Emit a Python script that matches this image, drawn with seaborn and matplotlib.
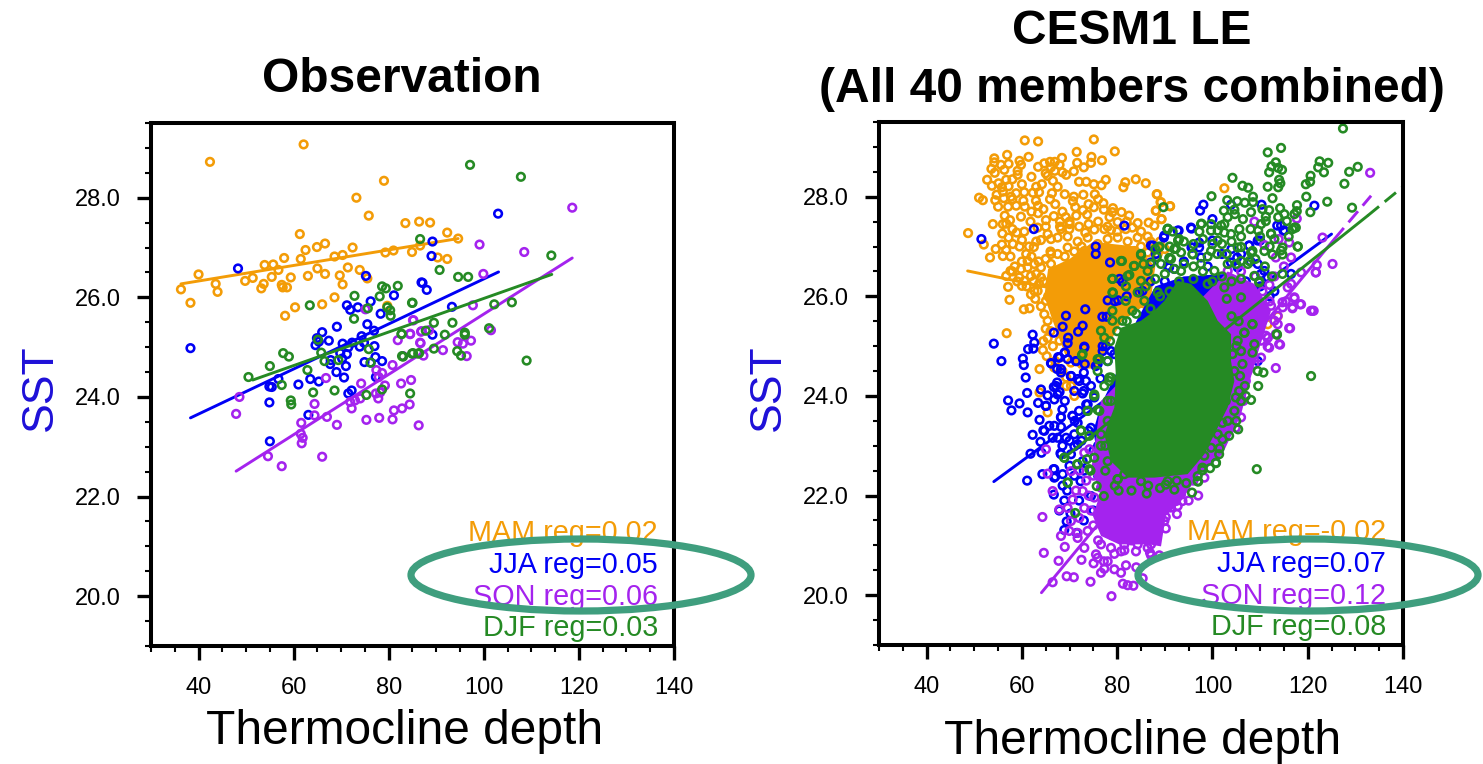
import matplotlib
matplotlib.use("Agg")
import matplotlib.pyplot as plt
from matplotlib.patches import Ellipse
from matplotlib.ticker import MultipleLocator, FormatStrFormatter
import pandas as pd
import seaborn as sns

sns.set_theme(style='white')
plt.rcParams['font.family'] = ['Liberation Sans', 'DejaVu Sans']

# values, (thermocline depth, SST)
obs_mam = [(42.4,28.72),(62.1,29.07),(79.0,28.34),(73.2,28.0),(75.8,27.64),(83.5,27.49),(86.4,27.52),(88.7,27.5),(61.3,27.27),
    (66.6,27.08),(64.9,27.01),(62.5,26.95),(72.4,27.0),(58.0,26.79),(61.5,26.77),(68.6,26.82),(70.3,26.85),(79.3,26.9),(81.0,26.94),
    (84.9,26.91),(86.6,27.04),(53.9,26.65),(55.7,26.66),(56.8,26.55),(40.0,26.46),(51.4,26.39),(49.8,26.33),(55.4,26.41),(59.4,26.4),
    (63.0,26.43),(65.0,26.58),(66.6,26.47),(71.4,26.6),(69.7,26.44),(73.9,26.55),(70.3,26.26),(75.5,26.38),(43.6,26.27),(44.0,26.11),
    (36.3,26.16),(38.3,25.89),(53.7,26.27),(53.2,26.18),(57.5,26.25),(57.7,26.2),(58.6,26.2),(68.6,26.0),(66.0,25.86),(60.3,25.8),
    (58.2,25.63),(92.3,27.3),(94.6,27.18),(90.3,26.8),(92.3,26.77),(79.7,25.83)]
obs_jja = [(48.3,26.58),(75.2,26.43),(81.1,26.04),(76.2,25.92),(71.2,25.84),(71.9,25.75),(73.5,25.8),(86.9,26.3),(78.3,25.67),(69.1,25.41),
    (75.5,25.46),(76.9,25.33),(66.0,25.3),(64.9,25.18),(65.3,25.11),(67.4,25.13),(64.6,25.04),(74.3,25.22),(72.3,25.09),(70.3,25.07),
    (73.9,25.01),(77.0,25.02),(74.8,25.09),(71.5,25.0),(69.8,24.88),(71.2,24.86),(70.2,24.77),(77.2,24.8),(67.8,24.74),(67.7,24.66),
    (71.0,24.62),(74.9,24.7),(76.2,24.69),(78.6,24.72),(69.0,24.5),(70.6,24.39),(65.3,24.31),(63.5,24.36),(61.0,24.25),(56.8,24.36),
    (55.4,24.2),(54.9,24.21),(77.3,24.4),(72.2,24.13),(71.5,24.07),(54.9,23.89),(63.1,23.64),(55.0,23.11),(38.3,24.98),(103.0,27.68),
    (89.2,27.12),(89.0,26.83),(87.1,26.29),(88.0,26.15),(93.3,25.81),(89.2,25.25)]
obs_son = [(118.6,27.8),(99.1,27.06),(108.5,26.91),(99.9,26.47),(97.7,25.84),(85.2,25.54),(84.5,25.27),(86.9,25.32),(88.5,25.34),(101.5,25.34),
    (97.3,25.13),(94.5,25.1),(95.6,25.07),(86.7,25.08),(91.4,24.94),(96.4,24.82),(87.3,24.83),(75.1,25.76),(85.1,25.54),(84.5,25.26),
    (86.8,25.31),(81.9,25.14),(86.6,25.09),(83.0,24.82),(80.8,24.64),(77.4,24.54),(78.6,24.48),(77.9,24.4),(66.8,24.38),(74.2,24.27),
    (84.7,24.34),(82.6,24.27),(79.2,24.23),(78.2,24.09),(77.3,24.07),(77.8,23.97),(74.0,23.97),(72.9,23.93),(71.9,23.9),(72.2,23.77),
    (64.4,23.86),(48.6,24.0),(47.9,23.66),(64.4,23.63),(67.0,23.6),(61.6,23.48),(69.1,23.44),(75.3,23.54),(78.0,23.58),(80.8,23.55),
    (81.1,23.73),(82.8,23.77),(84.4,23.85),(86.3,23.43),(61.5,23.26),(61.9,23.18),(61.7,23.07),(54.6,22.81),(66.0,22.8),(57.5,22.61)]
obs_djf = [(78.6,26.22),(79.4,26.18),(81.9,26.23),(78.1,26.02),(72.8,26.03),(63.4,25.84),(84.9,25.89),(79.7,25.8),(80.3,25.74),(80.4,25.63),
    (72.7,25.57),(75.6,25.78),(65.1,25.15),(82.7,25.26),(75.8,24.96),(65.8,24.89),(57.8,24.88),(59.0,24.81),(55.0,24.62),(66.5,24.72),
    (69.4,24.74),(62.9,24.54),(76.2,24.69),(82.8,24.82),(84.9,24.87),(86.2,24.87),(50.5,24.4),(57.5,24.24),(64.1,24.09),(68.6,24.13),
    (78.6,24.15),(75.3,24.04),(84.5,24.07),(59.4,23.93),(59.5,23.85),(97.1,28.66),(107.8,28.42),(86.6,27.17),(114.2,26.84),(90.7,26.55),
    (94.6,26.41),(96.7,26.41),(85.0,25.89),(102.2,25.86),(105.9,25.9),(89.5,25.49),(93.4,25.49),(91.8,25.25),(87.8,25.33),(82.7,25.27),
    (96.0,25.29),(96.0,25.25),(101.1,25.38),(109.0,24.73),(89.5,24.97),(94.4,24.92),(95.2,24.83),(85.1,24.88),(86.4,24.88),(83.0,24.81)]

le_mam = [(60.6,29.13),(63.4,29.11),(75.1,29.15),(79.5,28.91),(71.5,28.9),(56.9,28.84),(61.4,28.8),(68.4,28.78),(74.6,28.8),(76.8,28.73),
    (54.2,28.77),(54.2,28.69),(59.5,28.72),(57.2,28.66),(55.6,28.64),(53.6,28.56),(56.3,28.54),(54.3,28.48),(59.8,28.64),(59.1,28.52),
    (59.1,28.44),(63.4,28.6),(64.7,28.67),(65.9,28.7),(66.9,28.7),(66.1,28.59),(67.9,28.64),(66.9,28.52),(65.0,28.47),(65.4,28.42),
    (66.5,28.32),(68.5,28.49),(69.3,28.44),(70.9,28.51),(71.6,28.68),(73.0,28.59),(74.5,28.68),(52.7,28.34),(53.7,28.22),(55.1,28.27),
    (56.7,28.34),(55.8,28.19),(57.2,28.21),(64.2,28.25),(75.1,28.25),(76.7,28.23),(77.6,28.34),(81.7,28.29),(81.3,28.19),(83.9,28.35),
    (86.0,28.27),(88.4,28.05),(54.7,28.04),(60.5,28.09),(62.3,28.08),(63.6,28.09),(66.3,28.07),(58.8,28.07),(57.7,28.0),(56.2,27.97),
    (54.4,27.93),(51.0,27.98),(51.8,27.93),(65.9,27.95),(60.3,27.92),(62.95,27.92),(70.9,28.0),(70.7,27.91),(72.9,28.04),(75.3,28.05),
    (77.1,27.87),(89.2,27.89),(57.1,27.8),(58.8,27.82),(60.6,27.8),(63.4,27.82),(63.4,27.67),(71.2,27.79),(75.1,27.79),(77.2,27.74),
    (79.1,27.77),(79.0,27.69),(80.9,27.69),(82.5,27.62),(72.8,27.73),(73.7,27.64),(88.1,27.72),(91.1,27.81),(89.3,27.55),(56.4,27.62),
    (57.5,27.53),(56.7,27.46),(53.9,27.45),(59.8,27.6),(61.8,27.5),(48.7,27.27),(65.05,27.53),(66.7,27.61),(69.2,27.59),(71.4,27.62),
    (80.1,27.49),(78.4,27.59),(84.3,27.47),(86.6,27.48),(87.8,27.42),(55.9,27.26),(57.2,27.18),(58.9,27.28),(60.0,27.13),(52.0,27.04),
    (55.8,27.04),(58.1,27.05),(56.7,26.93),(53.3,26.78),(56.0,26.81),(57.6,26.8),(60.9,26.85),(61.2,26.71),(62.5,26.99),(64.0,27.13),
    (66.1,27.15),(68.2,27.35),(69.95,27.35),(73.3,27.28),(75.2,27.34),(77.3,27.35),(78.7,27.33),(81.8,27.35),(83.2,27.38),(57.6,26.51),
    (56.7,26.41),(59.8,26.55),(61.9,26.41),(64.0,26.58),(60.0,26.21),(57.1,26.19),(57.4,25.93),(60.4,25.74),(61.6,25.76),(63.6,26.25),
    (62.6,26.11),(56.8,25.26),(65.4,25.16),(67.9,25.11),(64.4,24.92),(65.2,24.8),(63.7,24.54),(66.8,24.57),(69.3,24.37),(70.3,24.2),
    (69.3,24.2),(63.7,24.07),(65.4,23.67),(71.0,24.0),(67.9,24.77),(70.3,24.67),(102.5,28.17),(88.3,28.05),(89.1,27.89),(91.1,27.81),
    (88.15,27.72),(89.3,27.55),(113.7,25.6),(111.6,25.44),
    (63.3,27.38),(65.4,27.25),(67.5,27.18),(69.6,27.2),(71.7,27.1),(73.8,27.18),(75.9,27.05),(78.0,27.15),(80.1,27.18),(82.2,27.1),
    (84.3,27.18),(86.4,27.2),(69.6,26.98),(73.1,26.91),(76.6,26.88),(80.1,26.91),(83.6,26.91),(86.4,26.88),(66.1,26.85),(62.6,26.65),
    (64.0,26.38),(66.1,26.65),(61.2,26.58),(59.45,26.38),(60.5,26.31),(63.3,26.11),(65.05,25.91),(64.7,25.64),(65.4,25.51),(61.9,26.04),
    (58.5,26.6),(60.0,26.7),(62.0,26.8),(63.5,26.7),(65.0,26.75),(66.0,26.9),(67.5,26.85),(69.0,26.8),(71.0,26.9),(72.5,27.0),
    (62.5,26.3),(61.0,26.2),(59.0,26.3),(58.0,26.5),(63.0,26.45),(64.5,26.3),(65.5,26.0),(64.0,25.8),(62.8,25.95),(66.0,25.3),
    (66.5,25.0),(67.0,24.7),(68.5,24.5),(65.0,25.35),(64.5,25.1),(68.0,27.4),(70.0,27.45),(72.0,27.4),(74.0,27.45),(76.0,27.5),
    (78.0,27.4),(80.0,27.3),(82.0,27.5),(85.0,27.3),(87.0,27.1),(89.0,27.1),(90.0,26.95),(88.5,26.85),(85.0,27.0),(65.0,27.4),
    (63.0,27.1),(61.5,27.0),(59.5,27.0),(60.5,27.3),(62.0,27.7),(64.5,27.75),(67.0,27.85),(68.5,27.7),(70.0,27.5),(74.0,27.85),
    (76.0,27.95),(58.0,27.35),(54.5,26.95),(56.0,27.45),(58.0,27.95),(60.0,28.25),(62.0,28.4),(63.0,28.2),(55.0,27.8),(56.0,28.1),
    (58.0,28.35),(67.5,28.2),(69.0,28.05),(72.0,28.3),(73.5,28.3),(68.0,27.5)]
le_jja = [(54.1,25.05),(55.7,24.7),(60.2,24.75),(60.4,24.62),(61.3,24.94),(62.6,25.07),(62.25,25.23),(62.4,24.95),(60.8,24.37),(61.1,24.06),
    (57.1,23.91),(59.5,23.85),(57.8,23.71),(61.2,23.67),(63.4,23.86),(63.7,23.52),(64.0,24.13),(65.4,24.01),(65.05,23.8),(66.8,23.93),
    (68.5,23.73),(68.2,23.58),(70.6,23.6),(71.1,23.5),(66.1,24.66),(67.6,24.78),(69.6,24.74),(71.4,24.7),(73.2,24.64),(67.4,24.54),
    (68.2,24.47),(70.3,24.4),(71.7,24.34),(73.0,24.47),(73.1,24.99),(69.6,25.06),(69.0,24.87),(67.4,24.27),(66.7,24.18),(67.9,24.08),
    (72.75,24.05),(73.5,23.83),(75.2,23.97),(65.75,23.4),(66.8,23.4),(68.2,23.38),(62.25,23.22),(64.5,23.31),(63.9,23.08),(61.8,22.84),
    (64.1,22.86),(68.1,22.85),(67.5,23.16),(69.3,23.16),(71.0,23.23),(71.7,23.03),(70.3,22.83),(66.65,22.53),(64.3,22.43),(67.0,22.38),
    (68.55,22.43),(61.1,22.3),(72.3,22.29),(68.55,22.2),(66.7,22.02),(68.9,21.9),(67.85,21.7),(70.2,21.64),(69.4,21.48),(68.9,21.31),
    (74.5,21.99),(78.35,22.33),(73.8,23.83),(74.5,23.36),(71.0,22.99),(72.75,22.69),(75.9,23.26),(77.3,23.5),(75.9,24.64),(78.0,24.7),
    (78.7,24.9),(76.95,25.0),(98.1,27.84),(97.4,27.72),(103.9,27.84),(110.3,27.84),(121.4,27.82),(100.0,27.55),(95.6,27.36),(92.9,27.32),
    (89.8,27.18),(113.6,27.42),(114.9,27.32),(110.0,27.12),(107.7,27.02),(95.6,26.98),(97.2,27.08),(87.5,27.02),(97.6,26.78),(90.6,26.61),
    (105.2,26.78),(105.3,26.58),(109.5,26.65),(110.9,26.51),(111.6,26.38),(110.2,26.45),(108.8,26.01),(116.5,26.45),(93.75,26.18),(103.9,26.68),
    (100.0,27.12),(51.5,27.15),(62.5,27.35),(75.5,26.85),(80.5,26.35),(79.5,25.9),(82.0,26.0),
    (75.5,27.0),(78.5,26.68),(81.1,26.29),(78.0,25.92),(80.2,25.92),(76.9,25.59),(77.8,25.59),(73.3,25.74),(69.25,25.61),(68.55,25.39),
    (72.75,25.41),(71.8,25.29),(66.7,25.27),(69.7,25.17),(73.1,24.97),(69.0,24.87),(66.2,24.65),(67.85,24.77),(71.35,24.7),(68.2,24.54),
    (70.3,24.4),(72.05,24.3),(73.45,24.3),(67.15,24.2),(65.05,23.8),(67.5,24.03),(70.65,23.6),(68.2,23.57),(66.45,23.16),(64.7,23.3),
    (68.2,22.83),(66.8,22.53),(66.8,22.36),(71.7,23.46),(81.5,27.42),(87.1,27.02),(89.9,27.22),(92.7,27.32),(95.5,27.38),(95.8,26.98),
    (97.2,26.98),(109.5,27.12),(107.7,27.02),(114.4,27.42),(115.1,27.32),(94.1,26.28),(85.3,26.11),(84.6,26.08),(87.1,26.68),(88.1,26.85),
    (90.9,26.58),(109.5,24.7),(77.65,25.0),(76.95,24.9),(79.4,24.84),
    (69.0,23.9),(71.0,24.1),(72.0,23.7),(73.0,24.1),(74.5,24.2),(75.5,24.6),(76.5,24.35),(74.0,23.3),(72.5,23.1),(73.0,22.5),
    (75.0,22.9),(76.0,23.0),(70.0,23.1),(68.5,23.0),(70.0,22.6),(71.0,22.4),(69.5,22.1),(72.0,21.9),(76.0,22.4),(77.0,22.2),
    (75.0,21.7),(73.0,21.5),(71.5,21.25),(99.0,26.6),(102.0,26.85),(104.0,26.95),(106.0,26.85),(108.0,26.7),(110.0,26.2),(112.0,26.0),
    (113.0,26.1),(107.0,26.3),(108.0,26.05),(94.0,26.7),(92.0,26.55),(90.0,26.3),(87.0,26.3)]
le_son = [(64.3,21.57),(64.6,20.85),(67.7,20.69),(66.45,20.26),(69.4,20.38),(70.9,20.36),(74.4,20.27),(78.8,19.98),(81.2,20.23),(82.2,20.2),
    (83.4,20.19),(85.35,20.34),(84.0,20.56),(81.85,20.6),(80.8,20.45),(79.4,20.52),(76.6,20.45),(77.3,20.53),(77.2,20.68),(72.5,20.71),
    (75.05,20.64),(69.0,20.97),(68.2,21.19),(71.7,21.25),(90.2,21.34),(92.55,21.63),(93.7,21.89),(90.2,21.57),(88.85,20.8),(86.9,20.85),
    (83.95,20.88),(81.5,20.9),(79.4,20.83),(75.55,20.82),(87.1,21.02),(88.85,21.45),(92.7,21.79),(69.6,21.75),(67.85,21.72),(70.65,21.92),
    (66.45,22.09),(65.4,22.44),(65.05,22.93),(71.35,22.1),(72.75,22.09),(70.3,22.49),(72.05,22.5),(73.1,22.86),(74.15,22.93),(94.1,22.29),
    (97.9,22.63),(100.75,22.99),(98.3,22.36),(92.35,21.89),(133.1,28.48),(117.7,27.56),(108.8,27.5),(123.1,27.18),(125.2,26.65),(121.9,26.63),
    (121.7,26.48),(113.9,27.15),(116.1,27.08),(110.9,27.03),(116.5,26.78),(113.3,26.78),(111.95,26.23),(118.6,26.48),(115.8,26.18),(117.2,25.98),
    (118.4,25.84),(116.8,25.76),(120.7,25.71),(121.25,25.71),(116.3,25.36),(114.0,25.04),(111.6,24.99),(111.6,25.17),(113.7,25.44),(114.75,25.78),
    (112.3,25.81),(110.9,25.71),(109.85,25.57),(107.4,26.11),(103.2,26.51),(113.3,25.24),(108.1,25.04),(110.2,25.11),(106.0,25.17),
    (76.6,21.02),(78.7,20.95),(81.5,21.02),(84.3,21.02),(86.4,20.95),(73.1,20.95),(71.7,21.15),(73.8,21.29),(87.1,21.22),(88.5,21.29),
    (89.9,21.49),(91.3,21.76),(90.6,21.89),(93.4,22.02),(94.1,22.16),(75.9,20.75),(78.0,20.68),(80.8,20.88),(87.1,20.8),(69.95,21.29),
    (70.3,21.49),(72.05,21.55),(73.1,21.75),(75.2,21.96),(76.6,22.16),
    (113.3,24.56),(114.2,25.03),(111.9,24.97),(116.1,25.36),(121.0,25.71),(118.6,25.84),(116.8,25.78),(117.2,25.96),(115.4,25.9),(111.6,25.17),
    (110.2,24.77),(108.8,24.64),(107.4,24.5),(108.1,24.7),(106.0,24.44),(103.5,24.03),(103.5,23.67),(106.0,23.57),(104.9,23.36),(108.8,25.21),
    (111.2,25.21),(113.7,25.61),(114.7,25.88),(116.5,26.25),(121.7,26.48),(113.0,25.51),
    (107.0,25.8),(109.0,25.3),(110.0,25.4),(106.0,25.4),(107.5,25.0),(105.5,24.8),(107.0,24.3),(106.5,23.9),(103.0,23.3),(101.5,23.0),
    (99.0,22.7),(97.0,22.0),(95.0,21.9),(96.0,22.3),(92.0,22.0),(95.0,22.7),(110.5,26.1),(112.0,25.9),(109.0,26.4),(106.0,26.5),
    (113.0,26.4),(115.0,26.6),(79.0,21.2),(83.0,21.1),(85.0,21.15),(76.0,21.1),(75.0,21.4),(74.5,21.7),(74.0,22.0),(73.5,22.3),
    (75.0,22.4),(88.0,21.5),(89.0,21.8),(91.0,22.2)]
le_djf = [(127.4,29.37),(114.4,28.98),(111.6,28.89),(113.3,28.69),(112.4,28.61),(114.6,28.54),(113.8,28.58),(111.9,28.49),(122.5,28.71),(124.3,28.68),
    (122.2,28.59),(123.4,28.49),(130.5,28.6),(128.7,28.5),(120.6,28.42),(120.5,28.3),(119.6,28.25),(127.7,28.26),(114.0,28.34),(114.25,28.27),
    (113.8,28.19),(111.6,28.2),(104.2,28.38),(106.3,28.22),(107.5,28.18),(99.8,28.01),(119.7,28.0),(112.6,27.97),(124.1,27.9),(108.5,28.0),
    (103.1,27.93),(105.2,27.91),(106.8,27.88),(108.5,27.89),(129.3,27.78),(117.75,27.83),(117.7,27.71),(120.55,27.69),(114.2,27.77),(110.5,27.75),
    (111.9,27.73),(111.2,27.6),(115.1,27.65),(117.2,27.65),(102.4,27.72),(104.6,27.74),(104.7,27.65),(108.1,27.69),(113.8,27.59),(115.6,27.51),
    (111.2,27.51),(106.4,27.55),(103.2,27.59),(97.7,27.46),(99.7,27.45),(101.8,27.42),(90.6,27.36),(91.65,27.3),(97.25,27.3),(99.7,27.32),
    (102.5,27.28),(105.65,27.35),(109.6,27.32),(117.5,27.38),(116.8,27.35),(112.3,27.26),(92.8,27.12),(101.1,27.12),(88.85,26.99),(92.35,26.96),
    (95.85,26.84),(99.7,26.91),(106.0,26.99),(108.4,26.91),(110.9,26.91),(114.7,26.98),(117.9,27.0),(114.7,26.84),(112.6,26.84),(90.95,26.77),
    (107.75,26.71),(114.7,26.45),(109.85,26.3),(113.55,25.23),(108.4,25.44),(106.7,25.27),(105.3,25.11),(89.7,27.79),(90.6,27.35),(92.8,27.12),
    (88.85,27.0),(85.0,26.83),(81.0,26.71),(83.5,26.61),(79.0,26.35),(82.55,26.43),(81.85,26.2),(79.1,26.07),(91.0,26.77),(88.3,26.79),
    (72.6,24.82),(75.9,24.74),(75.2,24.0),(73.8,23.7),(75.9,23.72),(72.4,23.31),(74.15,23.2),(71.6,22.63),(68.9,22.76),(73.65,22.73),
    (75.2,22.76),(74.4,22.5),(69.6,22.26),(75.7,22.19),(77.2,21.99),(80.3,22.1),(86.2,22.04),(92.0,22.12),(95.7,22.06),(97.0,22.28),
    (97.9,22.51),(100.75,22.66),(71.2,21.65),(80.1,22.33),(90.2,22.22),(78.0,23.9),(78.7,24.37),(120.7,24.4),(109.3,22.53),
    (85.0,26.85),(83.6,26.61),(86.4,26.51),(89.2,26.65),(93.4,26.88),(91.3,26.75),(95.8,26.85),(97.6,26.65),(100.4,26.51),(103.2,26.65),
    (106.0,26.71),(108.1,26.88),(107.4,26.65),(108.8,26.41),(109.8,26.28),(101.1,27.32),(103.9,27.25),(105.3,26.98),(110.2,27.45),(114.4,26.92),
    (117.9,27.0),(112.3,27.25),(117.2,27.38),(90.6,27.35),(97.6,27.45),(102.5,27.45),(93.0,27.15),(92.0,26.95),(80.8,26.71),(79.0,26.35),
    (82.2,26.41),(85.0,26.31),(84.3,26.08),(81.8,25.91),(79.0,26.08),(83.2,25.71),(79.0,25.71),(79.0,25.51),(81.1,25.51),(76.6,25.31),
    (77.3,25.17),(72.75,24.84),(76.25,24.74),(75.9,24.5),(78.35,24.37),(75.2,24.03),(77.3,24.2),(78.7,23.9),(73.8,23.7),(76.25,23.7),
    (72.4,23.3),(76.6,23.0),(74.15,22.53),(68.9,22.76),(69.6,22.26),(71.7,22.63),(80.1,22.33),(88.5,26.08),(85.7,25.91),(93.4,26.51),
    (99.0,26.25),(102.5,26.18),(106.0,25.98),(108.4,25.44),(106.7,25.27),(108.8,25.04),(108.4,24.87),(109.5,24.5),(110.7,24.47),(106.8,24.2),
    (109.6,24.2),(106.3,24.64),(106.0,23.9),(108.1,23.92),(104.9,23.97),(104.6,23.7),(105.4,23.33),(102.1,23.46),(102.8,23.9),(102.1,23.13),
    (101.4,22.83),(100.7,22.65),(98.3,22.8),(97.9,22.56),(96.9,22.29),(99.7,22.96),(113.5,25.24),(104.2,24.84),(104.6,24.5),(105.6,24.1),
    (103.2,23.5),(101.1,23.23),(96.9,22.39),(90.6,22.29),(85.0,22.29),(81.5,22.43),(78.0,22.69),(76.6,23.23),
    (86.0,26.2),(88.0,26.35),(90.0,26.45),(92.0,26.55),(94.0,26.65),(96.0,26.6),(98.0,26.5),(100.0,26.3),(102.0,26.4),(104.0,26.3),
    (106.0,26.35),(91.0,27.0),(94.0,27.1),(96.0,27.05),(98.0,27.15),(100.0,27.05),(102.0,27.05),(104.0,27.1),(106.0,27.2),(108.0,27.35),
    (110.0,27.2),(112.0,27.0),(113.0,27.15),(116.0,27.2),(87.0,26.65),(85.5,26.65),(88.0,26.95),(99.0,26.8),(101.0,26.85),(103.0,26.85),
    (105.0,26.65),(96.0,26.35),(93.0,26.3),(91.0,26.1),(89.0,26.0),(87.0,25.75),(84.0,25.65),(82.0,25.5),(80.0,25.3),(78.5,25.1),
    (78.0,24.7),(78.3,24.3),(78.0,23.5),(77.5,23.0),(77.5,22.5),(79.5,22.2),(83.0,22.1),(86.5,22.2),(89.0,22.15),(92.5,22.3),
    (94.5,22.25),(104.0,25.6),(103.0,25.95),(105.5,25.5),(105.0,25.0),(106.0,24.9),(105.8,24.4),(107.0,24.0),(105.0,23.5),(103.5,23.2),
    (101.5,22.95),(99.5,22.55),(111.0,26.6),(109.0,26.75),(112.5,26.4)]

# the middle of each cloud is solid colour in the picture, so only its outline can be read
le_mam_core = [(64.7,26.0),(65.5,26.55),(70.0,26.75),(75.0,27.1),(79.0,27.05),(84.0,27.0),(88.0,26.6),(87.0,25.9),(81.0,25.5),(78.0,25.0),(76.0,24.55),(72.0,24.55),(69.0,24.85),(66.5,25.5)]
le_jja_core = [(82.0,24.9),(84.0,25.5),(88.0,26.2),(94.0,26.4),(103.0,26.45),(105.5,26.1),(103.0,25.4),(105.0,24.2),(98.0,22.7),(81.0,22.45),(76.0,22.7),(75.0,23.3),(76.5,23.8),(78.5,24.2)]
le_son_core = [(74.5,22.49),(76.6,22.09),(74.9,21.59),(76.6,21.19),(80.4,21.02),(86.7,21.02),(89.2,20.98),(90.2,21.59),(93.4,21.89),(97.0,22.4),
    (102.1,22.83),(106.0,23.63),(108.8,24.64),(112.3,25.71),(108.8,26.25),(103.2,26.5),(76.6,23.9)]
le_djf_core = [(89.9,25.91),(92.7,26.31),(95.5,26.25),(99.0,25.91),(101.1,25.51),(103.9,25.24),(103.9,24.7),(104.6,24.3),(103.2,23.77),(100.4,23.23),
    (98.3,22.83),(94.8,22.43),(87.8,22.36),(82.2,22.36),(78.7,22.69),(77.3,23.23),(79.4,23.77),(79.7,24.44),(79.4,24.97),(80.8,25.37),(85.0,25.51),(87.8,25.71)]

# regression lines, end points
obs_lines = {'MAM': [(36.3,26.27),(94.6,27.18)], 'JJA': [(38.3,23.58),(103.1,26.51)], 'SON': [(47.9,22.51),(118.6,26.79)], 'DJF': [(51.4,24.34),(114.3,26.46)]}
le_lines = {'MAM': [(48.6,26.51),(95.0,25.6)], 'JJA': [(54.1,22.28),(125.0,27.25)], 'SON': [(64.1,20.05),(125.6,27.15)], 'DJF': [(68.9,22.76),(132.6,27.62)]}
le_dash = {'SON': [(125.6,27.15),(133.3,28.02)], 'DJF': [(132.6,27.62),(140.0,28.2)]}

seasons = ['MAM', 'JJA', 'SON', 'DJF']
colors = {'MAM': '#f39c07', 'JJA': '#0000f5', 'SON': '#a423ee', 'DJF': '#258a24'}
obs_reg = ['0.02', '0.05', '0.06', '0.03']
le_reg = ['-0.02', '0.07', '0.12', '0.08']
obs_points = dict(zip(seasons, [obs_mam, obs_jja, obs_son, obs_djf]))
le_points = dict(zip(seasons, [le_mam, le_jja, le_son, le_djf]))
le_cores = dict(zip(seasons, [le_mam_core, le_jja_core, le_son_core, le_djf_core]))

W, H = 1483, 764
fig = plt.figure(figsize=(W / 100, H / 100), dpi=100, facecolor='white')


def px_axes(left, top, right, bottom):
    return fig.add_axes([left / W, 1 - bottom / H, (right - left) / W, (bottom - top) / H])


def panel(ax, points, lines, cores=None, dashes=None):
    for i, s in enumerate(seasons):
        c = colors[s]
        z = 2 + 3 * i
        df = pd.DataFrame(lines[s], columns=['x', 'y'])
        sns.lineplot(data=df, x='x', y='y', ax=ax, color=c, lw=2.1, estimator=None, sort=False, zorder=z)
        if dashes and s in dashes:
            d = pd.DataFrame(dashes[s], columns=['x', 'y'])
            sns.lineplot(data=d, x='x', y='y', ax=ax, color=c, lw=2.1, estimator=None, sort=False, linestyle=(0, (5, 2.5)), zorder=z)
        if cores:
            ax.fill(*zip(*cores[s]), color=c, lw=0, zorder=z + 1)
        df = pd.DataFrame(points[s], columns=['x', 'y'])
        sns.scatterplot(data=df, x='x', y='y', ax=ax, s=30, marker='o', facecolor='none', edgecolor=c, linewidth=1.85, clip_on=False, zorder=z + 2)
    ax.set_xlim(30, 140)
    ax.set_ylim(19, 29.5)
    ax.set_xlabel('')
    ax.set_ylabel('')
    ax.xaxis.set_major_locator(MultipleLocator(20))
    ax.xaxis.set_minor_locator(MultipleLocator(5))
    ax.yaxis.set_major_locator(MultipleLocator(2))
    ax.yaxis.set_minor_locator(MultipleLocator(0.5))
    ax.yaxis.set_major_formatter(FormatStrFormatter('%.1f'))
    ax.tick_params(axis='both', which='major', direction='out', length=10, width=2.4, labelsize=17, pad=12, color='black', labelcolor='black', left=True, bottom=True)
    ax.tick_params(axis='both', which='minor', direction='out', length=4.5, width=1.5, color='black', left=True, bottom=True)
    for sp in ax.spines.values():
        sp.set_visible(True)
        sp.set_color('black')
        sp.set_linewidth(2.9)
        sp.set_zorder(30)


def figtext(px, py, s, **kw):
    fig.text(px / W, 1 - py / H, s, **kw)


ax1 = px_axes(151, 123, 674, 646)
ax2 = px_axes(879, 122, 1403, 645)
panel(ax1, obs_points, obs_lines)
panel(ax2, le_points, le_lines, le_cores, le_dash)

figtext(402, 79, 'Observation', ha='center', va='center', fontsize=34.5, fontweight='bold', color='black')
figtext(1132, 31, 'CESM1 LE', ha='center', va='center', fontsize=34.5, fontweight='bold', color='black')
figtext(1132, 89, '(All 40 members combined)', ha='center', va='center', fontsize=34.5, fontweight='bold', color='black')
figtext(405, 731, 'Thermocline depth', ha='center', va='center', fontsize=34.5, color='black')
figtext(1143, 741, 'Thermocline depth', ha='center', va='center', fontsize=34.5, color='black')
figtext(40, 388, 'SST', ha='center', va='center', rotation=90, fontsize=32, color='#1e10d8')
figtext(768, 388, 'SST', ha='center', va='center', rotation=90, fontsize=32, color='#1e10d8')

rows = [541, 573, 605, 636]
for s, r, y in zip(seasons, obs_reg, rows):
    figtext(658, y, f'{s} reg={r}', ha='right', va='baseline', fontsize=20.7, color=colors[s])
for s, r, y in zip(seasons, le_reg, rows):
    figtext(1386, y - 1, f'{s} reg={r}', ha='right', va='baseline', fontsize=20.7, color=colors[s])

# highlight ellipses lie over both axes and text
for cx in (581, 1308):
    fig.add_artist(Ellipse((cx, H - 575), 340, 72, transform=None, fc='none', ec='#3f9e7e', lw=5.2, zorder=40))

fig.savefig('out.png', dpi=100)
